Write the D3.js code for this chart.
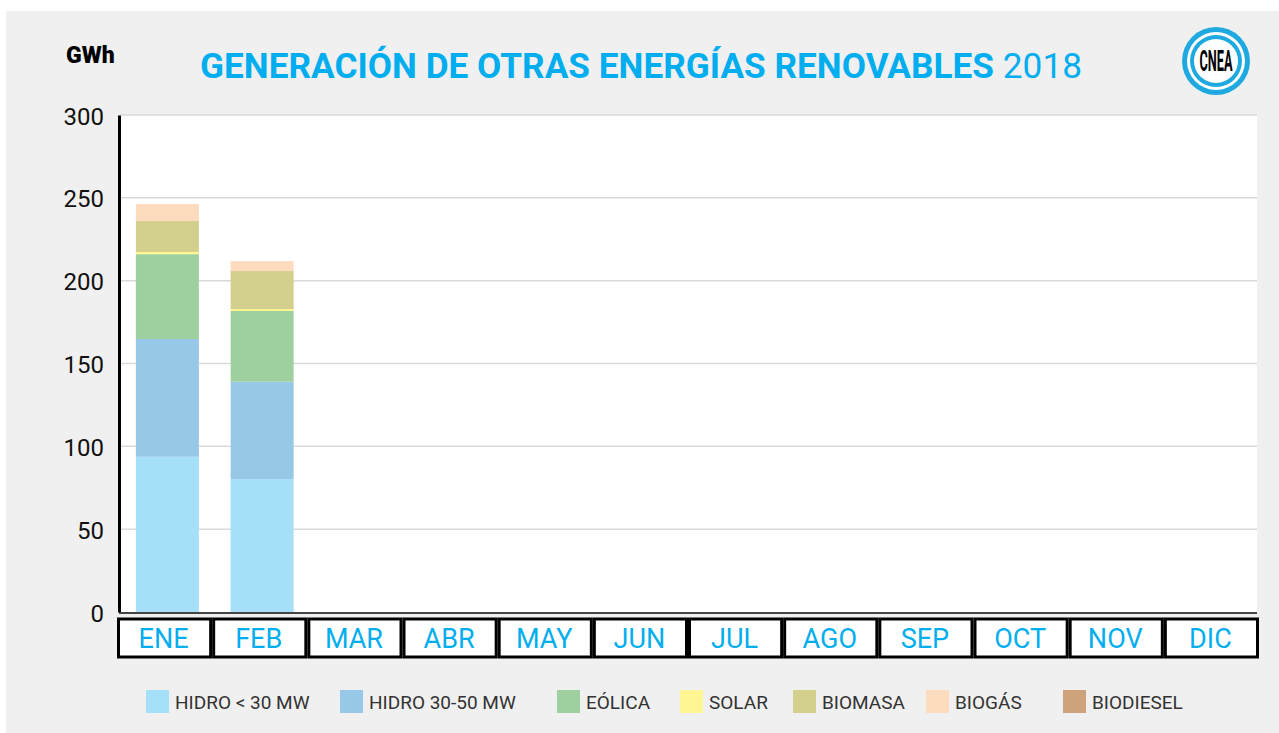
<!DOCTYPE html>
<html>
<head>
<meta charset="utf-8">
<script src="https://cdn.jsdelivr.net/npm/d3@7"></script>
<style>
  body { margin: 0; background: #fff; }
  svg text { font-family: Roboto, "Noto Sans", sans-serif; }
</style>
</head>
<body>
<svg id="chart" width="1279" height="733"></svg>
<script>
// GENERACION DE OTRAS ENERGIAS RENOVABLES 2018

const months = ["ENE", "FEB", "MAR", "ABR", "MAY", "JUN", "JUL", "AGO", "SEP", "OCT", "NOV", "DIC"];
const seriesNames = ["HIDRO < 30 MW", "HIDRO 30-50 MW", "EÓLICA", "SOLAR", "BIOMASA", "BIOGÁS", "BIODIESEL"];
const hidroMenor30 = [93.7, 80.3, 0, 0, 0, 0, 0, 0, 0, 0, 0, 0];
const hidro30a50 = [71.1, 58.7, 0, 0, 0, 0, 0, 0, 0, 0, 0, 0];
const eolica = [51.2, 42.7, 0, 0, 0, 0, 0, 0, 0, 0, 0, 0];
const solar = [1.3, 1.2, 0, 0, 0, 0, 0, 0, 0, 0, 0, 0];
const biomasa = [18.7, 22.9, 0, 0, 0, 0, 0, 0, 0, 0, 0, 0];
const biogas = [10.2, 6.0, 0, 0, 0, 0, 0, 0, 0, 0, 0, 0];
const biodiesel = [0, 0, 0, 0, 0, 0, 0, 0, 0, 0, 0, 0];
const yTicks = [0, 50, 100, 150, 200, 250, 300];

const colors = ["#a6dff8", "#98c8e8", "#9dd09e", "#fff592", "#d2d08c", "#fddbbf", "#cea27a"];
const legendX = [146, 340, 557, 680, 793, 926, 1063];

const allSeries = [hidroMenor30, hidro30a50, eolica, solar, biomasa, biogas, biodiesel];
const table = months.map(function (m, i) {
  const row = { month: m };
  seriesNames.forEach(function (s, k) { row[s] = allSeries[k][i]; });
  return row;
});

const svg = d3.select("#chart");

// grey panel
svg.append("rect")
  .attr("x", 6).attr("y", 11)
  .attr("width", 1279).attr("height", 733)
  .attr("fill", "#f0f0f0");

const plotLeft = 120, plotRight = 1257, plotTop = 115, plotBottom = 612;

const x = d3.scaleBand().domain(months).range([plotLeft, plotRight])
  .paddingInner(0.335).paddingOuter(0.1675);
const y = d3.scaleLinear().domain([0, 300]).range([plotBottom, plotTop]);

// plot background
svg.append("rect")
  .attr("x", plotLeft).attr("y", plotTop)
  .attr("width", plotRight - plotLeft).attr("height", plotBottom - plotTop)
  .attr("fill", "#fff");

// grid
svg.append("g")
  .selectAll("line")
  .data(yTicks.filter(function (d) { return d > 0; }))
  .enter()
  .append("line")
  .attr("x1", plotLeft).attr("x2", plotRight)
  .attr("y1", function (d) { return y(d); })
  .attr("y2", function (d) { return y(d); })
  .attr("stroke", "#d9d9d9")
  .attr("stroke-width", 1.5);

// bars
const stacked = d3.stack().keys(seriesNames)(table);
svg.append("g")
  .selectAll("g")
  .data(stacked)
  .enter()
  .append("g")
  .attr("fill", function (d, i) { return colors[i]; })
  .selectAll("rect")
  .data(function (d) { return d; })
  .enter()
  .append("rect")
  .attr("x", function (d) { return x(d.data.month); })
  .attr("width", x.bandwidth())
  .attr("y", function (d) { return y(d[1]); })
  .attr("height", function (d) { return y(d[0]) - y(d[1]); });

// y axis
const yAxis = svg.append("g")
  .attr("transform", "translate(" + (plotLeft - 1) + ",0)")
  .call(d3.axisLeft(y).tickValues(yTicks).tickSize(0).tickPadding(15));
yAxis.select(".domain").attr("stroke", "#000").attr("stroke-width", 3);
yAxis.selectAll("text")
  .attr("font-size", 24)
  .attr("fill", "#111")
  .attr("font-family", "Roboto, sans-serif")
  .attr("dy", "0.38em");

// bottom line
svg.append("line")
  .attr("x1", plotLeft - 1).attr("x2", plotRight)
  .attr("y1", plotBottom + 1).attr("y2", plotBottom + 1)
  .attr("stroke", "#444")
  .attr("stroke-width", 2);

// month boxes
const box = d3.scaleBand().domain(months).range([117, 1259]);
const boxes = svg.append("g").selectAll("g")
  .data(months)
  .enter()
  .append("g")
  .attr("transform", function (d) { return "translate(" + box(d) + ",619)"; });
boxes.append("rect")
  .attr("x", 1.5).attr("y", 0)
  .attr("width", box.bandwidth() - 3)
  .attr("height", 38)
  .attr("fill", "#fff")
  .attr("stroke", "#000")
  .attr("stroke-width", 3);
boxes.append("text")
  .attr("x", box.bandwidth() / 2 - 1)
  .attr("y", 29)
  .attr("text-anchor", "middle")
  .attr("font-size", 27)
  .attr("fill", "#00aeef")
  .text(function (d) { return d; });

// unit
svg.append("text")
  .attr("x", 66).attr("y", 63)
  .attr("font-size", 23)
  .attr("font-weight", 900)
  .attr("fill", "#000")
  .text("GWh");

// title
const title = svg.append("text")
  .attr("x", 200).attr("y", 78)
  .attr("font-size", 35)
  .attr("fill", "#00aeef")
  .attr("textLength", 882)
  .attr("lengthAdjust", "spacingAndGlyphs");
title.append("tspan").attr("font-weight", "bold").text("GENERACIÓN DE OTRAS ENERGÍAS RENOVABLES ");
title.append("tspan").attr("font-weight", "normal").text("2018");

// logo
const logo = svg.append("g").attr("transform", "translate(1216,61)");
logo.append("circle").attr("r", 34).attr("fill", "#1fa9e1");
logo.append("circle").attr("r", 29).attr("fill", "#fff");
logo.append("circle").attr("r", 26).attr("fill", "#1fa9e1");
logo.append("circle").attr("r", 22).attr("fill", "#fff");
logo.append("text")
  .attr("x", 0).attr("y", 10)
  .attr("text-anchor", "middle")
  .attr("font-size", 29)
  .attr("font-weight", "bold")
  .attr("font-family", "'DejaVu Sans Condensed', 'DejaVu Sans', sans-serif")
  .attr("textLength", 33)
  .attr("lengthAdjust", "spacingAndGlyphs")
  .attr("fill", "#000")
  .text("CNEA");

// legend
const legend = svg.append("g").selectAll("g")
  .data(seriesNames)
  .enter()
  .append("g")
  .attr("transform", function (d, i) { return "translate(" + legendX[i] + ",690)"; });
legend.append("rect")
  .attr("width", 23).attr("height", 23)
  .attr("fill", function (d, i) { return colors[i]; });
legend.append("text")
  .attr("x", 29).attr("y", 19)
  .attr("font-size", 19)
  .attr("fill", "#333")
  .text(function (d) { return d; });
</script>
</body>
</html>
